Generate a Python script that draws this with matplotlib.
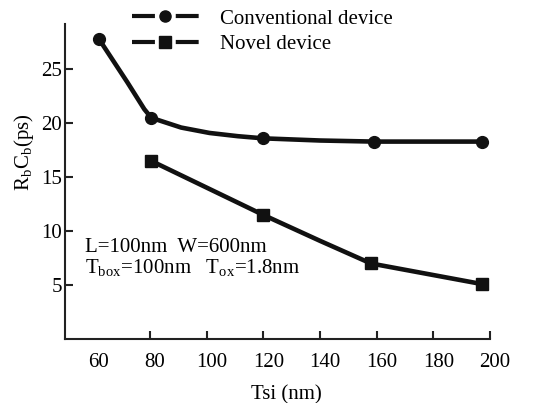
import matplotlib
matplotlib.use("Agg")
import matplotlib.pyplot as plt
import matplotlib.transforms as mtransforms
from matplotlib.lines import Line2D

plt.rcParams["font.family"] = ["Liberation Serif", "DejaVu Serif"]
plt.rcParams["mathtext.fontset"] = "custom"
plt.rcParams["mathtext.rm"] = "Liberation Serif"
plt.rcParams["lines.scale_dashes"] = False

# measured points (markers)
tsi_conv = [62, 80.5, 120, 159, 197]
rc_conv = [27.8, 20.5, 18.6, 18.3, 18.3]
tsi_novel = [80.5, 120, 158, 197]
rc_novel = [16.5, 11.5, 7.0, 5.1]

# line path (curve between markers)
curve_x_conv = [62, 72, 78, 80.5, 91, 101, 111, 120, 140, 159, 197]
curve_y_conv = [27.8, 23.8, 21.3, 20.5, 19.6, 19.1, 18.8, 18.6, 18.4, 18.3, 18.3]
curve_x_novel = [80.5, 120, 140, 158, 197]
curve_y_novel = [16.5, 11.5, 9.1, 7.0, 5.1]

xticks = [60, 80, 100, 120, 140, 160, 180, 200]
yticks = [5, 10, 15, 20, 25]

fig = plt.figure(figsize=(5.36, 4.03), dpi=100)
ax = fig.add_axes([65 / 536, 64 / 403, 425 / 536, 315 / 403])

c = "#111111"
ax.plot(curve_x_conv, curve_y_conv, color=c, lw=3.3)
ax.plot(tsi_conv, rc_conv, "o", color=c, ms=8.5)
ax.plot(curve_x_novel, curve_y_novel, color=c, lw=3.3)
ax.plot(tsi_novel, rc_novel, "s", color=c, ms=8.5)

ax.set_xlim(50, 200)
ax.set_ylim(0, 29.2)
ax.set_xticks(xticks)
ax.set_yticks(yticks)
ax.tick_params(direction="in", length=6, width=1.5, labelsize=15, color="#222222")
ax.tick_params(axis="x", pad=10)
ax.tick_params(axis="y", pad=2)
ax.xaxis.get_major_ticks()[0].tick1line.set_visible(False)
# labels sit a bit right of their ticks in the original
off = mtransforms.ScaledTranslation(5 / 100, 0, fig.dpi_scale_trans)
for lab in ax.get_xticklabels():
    lab.set_transform(lab.get_transform() + off)

for s in ["top", "right"]:
    ax.spines[s].set_visible(False)
for s in ["left", "bottom"]:
    ax.spines[s].set_linewidth(1.5)
    ax.spines[s].set_color("#222222")

ax.set_xlabel("Tsi (nm)", fontsize=15)
ax.xaxis.set_label_coords(0.52, -0.146)
ax.set_ylabel(r"R$_\mathrm{b}$C$_\mathrm{b}$(ps)", fontsize=15)
ax.yaxis.set_label_coords(-0.068, 0.594)

ax.text(57, 8.5, "L=100nm  W=600nm", fontsize=15, va="center")
ax.text(57, 6.6, r"T$_\mathrm{box}$=100nm   T$_\mathrm{ox}$=1.8nm", fontsize=15, va="center")

handles = [
    Line2D([], [], color=c, lw=3, marker="o", ms=8, dashes=(16.5, 15)),
    Line2D([], [], color=c, lw=3, marker="s", ms=8, dashes=(16.5, 15)),
]
fig.legend(handles, ["Conventional device", "Novel device"],
           loc="upper left", bbox_to_anchor=(132 / 536, 1 - 9 / 403),
           frameon=False, fontsize=15, handlelength=3.2, handletextpad=1.0,
           labelspacing=0.3, borderpad=0, borderaxespad=0)

fig.savefig("out.png", dpi=100)
